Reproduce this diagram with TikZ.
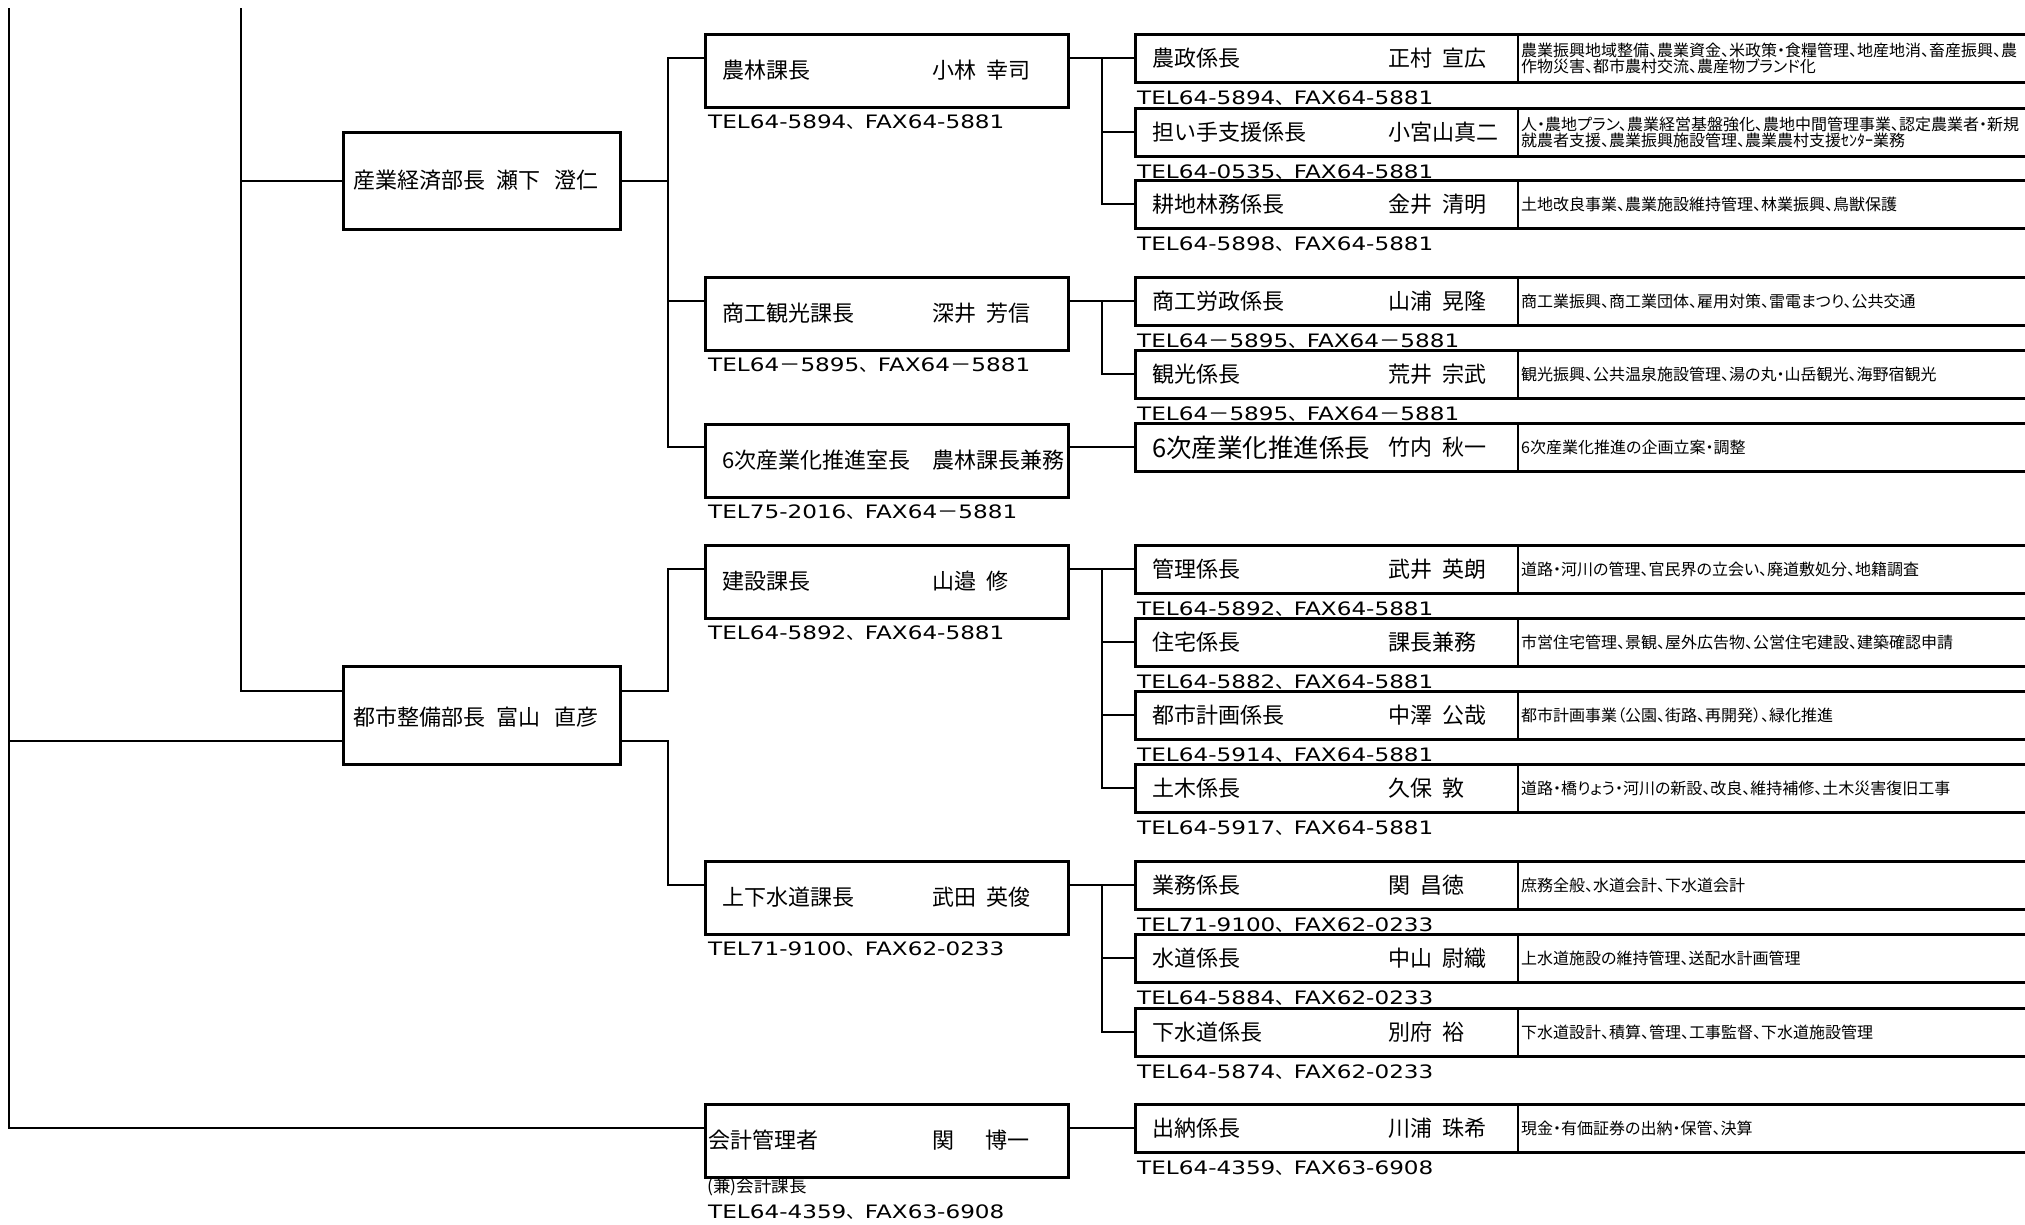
\documentclass[tikz,border=0pt]{standalone}
\usepackage{fontspec}
\setmainfont{Noto Sans CJK JP}
\newfontfamily\descf[RawFeature=+palt]{Noto Sans CJK JP}
\newfontfamily\telf[FakeStretch=1.25]{DejaVu Sans}
\newfontfamily\telj{Noto Sans CJK JP}
\newfontfamily\telm[FakeStretch=1.15]{Noto Sans CJK JP}
\newcommand\tc{{\telj 、}}
\newcommand\tm{{\telm －}}
\newcommand\subrow[5]{%
  \node[subbox] (#1) at (1134,#2) {};
  \draw[divl] ([xshift=384pt]#1.north west) -- ([xshift=384pt]#1.south west);
  \node[lbl] (#1-l) at ([xshift=18pt]#1.west) {#3};
  \node[lbl] (#1-n) at ([xshift=254pt]#1.west) {#4};
  \node[desc] (#1-d) at ([xshift=387pt]#1.west) {#5};
}
\newcommand\subtel[2]{\node[telt] (#1-t) at ([xshift=3pt,yshift=-21pt]#1.south west) {#2};}
\newcommand\sectel[2]{\node[telt] (#1-t) at ([xshift=4pt,yshift=-19pt]#1.south west) {#2};}
\newcommand\secrow[4]{%
  \node[secbox] (#1) at (704,#2) {};
  \node[lbl] (#1-l) at ([xshift=18pt,yshift=-37pt]#1.north west) {#3};
  \node[lbl] (#1-n) at ([xshift=228pt,yshift=-37pt]#1.north west) {#4};
}
\tikzset{
  conn/.style={line width=2pt},
  deptbox/.style={draw, line width=3.2pt, inner sep=0, anchor=north west, minimum width=277pt},
  secbox/.style={draw, line width=3.2pt, inner sep=0, anchor=north west, minimum width=363pt, minimum height=73pt},
  subbox/.style={draw, line width=2.8pt, inner sep=0, anchor=north west, minimum width=920pt, minimum height=48pt},
  divl/.style={line width=1.6pt},
  lbl/.style={anchor=west, inner sep=0, font=\fontsize{22pt}{24pt}\selectfont},
  desc/.style={anchor=west, inner sep=0, align=left, font=\descf\fontsize{16pt}{14.5pt}\selectfont},
  telt/.style={anchor=base west, inner sep=0, font=\telf\fontsize{18.5pt}{20pt}\selectfont},
}
\begin{document}
\begin{tikzpicture}[x=1pt,y=-1pt]
\useasboundingbox (0,0) rectangle (2025,1224);
\clip (0,0) rectangle (2025,1224);

% department boxes
\node[deptbox, minimum height=97pt] (dept1) at (342,131) {};
\node[lbl] (dept1-l) at (353,180) {産業経済部長\hspace{11pt}瀬下\hspace{14pt}澄仁};
\node[deptbox, minimum height=98pt] (dept2) at (342,665) {};
\node[lbl] (dept2-l) at (353,717) {都市整備部長\hspace{11pt}富山\hspace{14pt}直彦};

% section boxes
\secrow{sec1}{33}{農林課長}{小林\hspace{10pt}幸司}
\secrow{sec2}{276}{商工観光課長}{深井\hspace{10pt}芳信}
\secrow{sec3}{423}{6次産業化推進室長}{農林課長兼務}
\secrow{sec4}{544}{建設課長}{山邉\hspace{10pt}修}
\secrow{sec5}{860}{上下水道課長}{武田\hspace{10pt}英俊}
\node[secbox] (sec6) at (704,1103) {};
\node[lbl] (sec6-l) at ([xshift=4pt,yshift=-37pt]sec6.north west) {会計管理者};
\node[lbl] (sec6-n) at ([xshift=228pt,yshift=-37pt]sec6.north west) {関\hspace{31pt}博一};
\node[anchor=west, inner sep=0, font=\descf\fontsize{17.5pt}{18pt}\selectfont] (sec6-k) at (707,1187) {(兼)会計課長};

\sectel{sec1}{TEL64-5894\tc FAX64-5881}
\sectel{sec2}{TEL64\tm 5895\tc FAX64\tm 5881}
\sectel{sec3}{TEL75-2016\tc FAX64\tm 5881}
\sectel{sec4}{TEL64-5892\tc FAX64-5881}
\sectel{sec5}{TEL71-9100\tc FAX62-0233}
\node[telt] (sec6-t) at (708,1218.5) {TEL64-4359\tc FAX63-6908};

% sub boxes
\subrow{sub11}{33}{農政係長}{正村\hspace{10pt}宣広}{農業振興地域整備、農業資金、米政策・食糧管理、地産地消、畜産振興、農\\作物災害、都市農村交流、農産物ブランド化}
\subrow{sub12}{107}{担い手支援係長}{小宮山真二}{人・農地プラン、農業経営基盤強化、農地中間管理事業、認定農業者・新規\\就農者支援、農業振興施設管理、農業農村支援ｾﾝﾀｰ業務}
\subrow{sub13}{179}{耕地林務係長}{金井\hspace{10pt}清明}{土地改良事業、農業施設維持管理、林業振興、鳥獣保護}
\subrow{sub21}{276}{商工労政係長}{山浦\hspace{10pt}晃隆}{商工業振興、商工業団体、雇用対策、雷電まつり、公共交通}
\subrow{sub22}{349}{観光係長}{荒井\hspace{10pt}宗武}{観光振興、公共温泉施設管理、湯の丸・山岳観光、海野宿観光}
\node[subbox] (subx) at (1134,422) {};
\draw[divl] ([xshift=384pt]subx.north west) -- ([xshift=384pt]subx.south west);
\node[lbl, font=\fontsize{25.5pt}{27pt}\selectfont] (subx-l) at ([xshift=18pt]subx.west) {6次産業化推進係長};
\node[lbl] (subx-n) at ([xshift=254pt]subx.west) {竹内\hspace{10pt}秋一};
\node[desc] (subx-d) at ([xshift=387pt]subx.west) {6次産業化推進の企画立案・調整};
\subrow{sub31}{544}{管理係長}{武井\hspace{10pt}英朗}{道路・河川の管理、官民界の立会い、廃道敷処分、地籍調査}
\subrow{sub32}{617}{住宅係長}{課長兼務}{市営住宅管理、景観、屋外広告物、公営住宅建設、建築確認申請}
\subrow{sub33}{690}{都市計画係長}{中澤\hspace{10pt}公哉}{都市計画事業（公園、街路、再開発）、緑化推進}
\subrow{sub34}{763}{土木係長}{久保\hspace{10pt}敦}{道路・橋りょう・河川の新設、改良、維持補修、土木災害復旧工事}
\subrow{sub41}{860}{業務係長}{関\hspace{10pt}昌徳}{庶務全般、水道会計、下水道会計}
\subrow{sub42}{933}{水道係長}{中山\hspace{10pt}尉織}{上水道施設の維持管理、送配水計画管理}
\subrow{sub43}{1007}{下水道係長}{別府\hspace{10pt}裕}{下水道設計、積算、管理、工事監督、下水道施設管理}
\subrow{sub51}{1103}{出納係長}{川浦\hspace{10pt}珠希}{現金・有価証券の出納・保管、決算}

\subtel{sub11}{TEL64-5894\tc FAX64-5881}
\subtel{sub12}{TEL64-0535\tc FAX64-5881}
\subtel{sub13}{TEL64-5898\tc FAX64-5881}
\subtel{sub21}{TEL64\tm 5895\tc FAX64\tm 5881}
\subtel{sub22}{TEL64\tm 5895\tc FAX64\tm 5881}
\subtel{sub31}{TEL64-5892\tc FAX64-5881}
\subtel{sub32}{TEL64-5882\tc FAX64-5881}
\subtel{sub33}{TEL64-5914\tc FAX64-5881}
\subtel{sub34}{TEL64-5917\tc FAX64-5881}
\subtel{sub41}{TEL71-9100\tc FAX62-0233}
\subtel{sub42}{TEL64-5884\tc FAX62-0233}
\subtel{sub43}{TEL64-5874\tc FAX62-0233}
\subtel{sub51}{TEL64-4359\tc FAX63-6908}

% trunk lines
\coordinate (top1) at (9,8);
\coordinate (top2) at (241,8);
\coordinate (L3) at (668,0);
\coordinate (J) at (1102,0);
\coordinate (d2up) at ([yshift=25pt]dept2.west);
\coordinate (d2lo) at ([yshift=-25pt]dept2.west);

\draw[conn] (top1) |- (sec6.west |- sub51.west);
\draw[conn] (top1 |- d2lo) -- (d2lo);
\draw[conn] (top2) |- (d2up);
\draw[conn] (top2 |- dept1.west) -- (dept1.west);

\draw[conn] (dept1.east) -- (L3 |- dept1.east);
\draw[conn] (sec1.west |- sub11.west) -- (L3 |- sub11.west) -- (L3 |- subx.west) -- (sec3.west |- subx.west);
\draw[conn] (L3 |- sub21.west) -- (sec2.west |- sub21.west);
\draw[conn] (dept2.east |- d2up) -- (L3 |- d2up) -- (L3 |- sub31.west) -- (sec4.west |- sub31.west);
\draw[conn] (dept2.east |- d2lo) -- (L3 |- d2lo) -- (L3 |- sub41.west) -- (sec5.west |- sub41.west);

% section to sub connectors
\draw[conn] (sec1.east |- sub11.west) -- (sub11.west);
\draw[conn] (J |- sub11.west) |- (sub13.west);
\draw[conn] (J |- sub12.west) -- (sub12.west);
\draw[conn] (sec2.east |- sub21.west) -- (sub21.west);
\draw[conn] (J |- sub21.west) |- (sub22.west);
\draw[conn] (sec3.east |- subx.west) -- (subx.west);
\draw[conn] (sec4.east |- sub31.west) -- (sub31.west);
\draw[conn] (J |- sub31.west) |- (sub34.west);
\draw[conn] (J |- sub32.west) -- (sub32.west);
\draw[conn] (J |- sub33.west) -- (sub33.west);
\draw[conn] (sec5.east |- sub41.west) -- (sub41.west);
\draw[conn] (J |- sub41.west) |- (sub43.west);
\draw[conn] (J |- sub42.west) -- (sub42.west);
\draw[conn] (sec6.east |- sub51.west) -- (sub51.west);
\end{tikzpicture}
\end{document}
